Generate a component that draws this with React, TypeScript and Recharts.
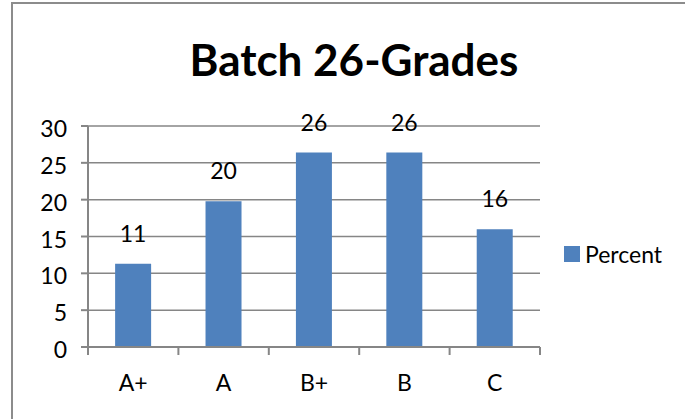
import React from 'react';
import { BarChart, Bar, XAxis, YAxis, CartesianGrid, LabelList } from 'recharts';

const barColor = '#4F81BD';
const gridColor = '#868686';
const font = 'Lato, "Open Sans", sans-serif';

// Data
const grades = ['A+', 'A', 'B+', 'B', 'C'];
const percents = [11.3, 19.8, 26.4, 26.4, 16.0];
const yTicks = [0, 5, 10, 15, 20, 25, 30];
const seriesName = 'Percent';

const data = grades.map((grade, i) => ({ grade, [seriesName]: percents[i] }));

// Excel style category tick: text centred, tick marks on the band edges
const GradeTick = (props: any) => {
  const { x, y, payload, index, visibleTicksCount } = props;
  const half = payload?.offset ?? 0;
  const isLast = index === (visibleTicksCount ?? grades.length) - 1;
  return (
    <g>
      <line x1={x - half} x2={x - half} y1={y} y2={y + 8} stroke={gridColor} strokeWidth={2} />
      {isLast && <line x1={x + half} x2={x + half} y1={y} y2={y + 8} stroke={gridColor} strokeWidth={2} />}
      <text x={x} y={y + 44} textAnchor="middle" fill="#000" fontSize={23} fontFamily={font}>
        {payload.value}
      </text>
    </g>
  );
};

const App = () => {
  return (
    <div style={{ position: 'fixed', left: 0, top: 0, width: 685, height: 419, overflow: 'hidden', background: '#fff', fontFamily: font }}>
      {/* chart frame */}
      <div style={{ position: 'absolute', left: 11, top: 2, width: 720, height: 450, border: '2px solid #8c8c8c' }} />

      <div
        style={{
          position: 'absolute',
          left: 0,
          top: 37,
          width: 708,
          textAlign: 'center',
          fontSize: 44,
          lineHeight: '44px',
          fontWeight: 700,
          color: '#000',
        }}
      >
        Batch 26-Grades
      </div>

      <div style={{ position: 'absolute', left: 0, top: 0 }}>
        <BarChart
          width={685}
          height={419}
          data={data}
          margin={{ top: 126, right: 145, left: 0, bottom: 22 }}
          barCategoryGap="30%"
        >
          <CartesianGrid vertical={false} stroke={gridColor} strokeWidth={1.5} />
          <XAxis
            dataKey="grade"
            height={50}
            axisLine={{ stroke: gridColor, strokeWidth: 2 }}
            tickLine={false}
            tickSize={0}
            tickMargin={0}
            tick={<GradeTick />}
            interval={0}
          />
          <YAxis
            width={88}
            domain={[0, 30]}
            ticks={yTicks}
            axisLine={{ stroke: gridColor, strokeWidth: 2 }}
            tickLine={{ stroke: gridColor, strokeWidth: 2 }}
            tickSize={7}
            tickMargin={14}
            tick={{ fill: '#000', fontSize: 23, fontFamily: font, dy: 3 }}
          />
          <Bar dataKey={seriesName} fill={barColor} isAnimationActive={false}>
            <LabelList
              dataKey={seriesName}
              position="top"
              offset={22}
              formatter={(v: number) => Math.round(v)}
              style={{ fill: '#000', fontSize: 23, fontFamily: font }}
            />
          </Bar>
        </BarChart>
      </div>

      {/* legend */}
      <div style={{ position: 'absolute', left: 564, top: 240, display: 'flex', alignItems: 'center', fontSize: 23, lineHeight: '28px', color: '#000' }}>
        <span style={{ display: 'inline-block', width: 16, height: 16, background: barColor, marginRight: 5 }} />
        <span>{seriesName}</span>
      </div>
    </div>
  );
};

export default App;
